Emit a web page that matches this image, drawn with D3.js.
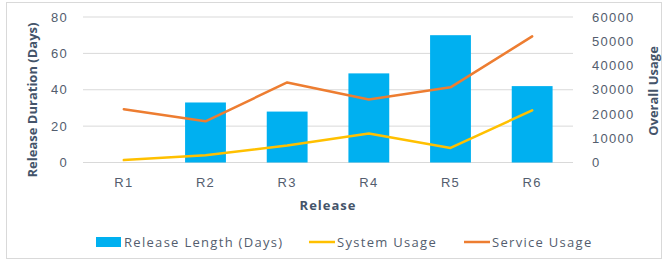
<!DOCTYPE html>
<html>
<head>
<meta charset="utf-8">
<script src="https://cdn.jsdelivr.net/npm/d3@7"></script>
<style>
  body { margin: 0; background: #fff; }
  svg { display: block; font-family: 'Open Sans', sans-serif; }
</style>
</head>
<body>
<div id="chart"></div>
<script>
const releases = ['R1', 'R2', 'R3', 'R4', 'R5', 'R6'];
const releaseLength = [0, 33, 28, 49, 70, 42];
const systemUsage = [1000, 3000, 7000, 12000, 6000, 21500];
const serviceUsage = [22000, 17000, 33000, 26000, 31000, 52000];
const leftTicks = [0, 20, 40, 60, 80];
const rightTicks = [0, 10000, 20000, 30000, 40000, 50000, 60000];

const width = 668;
const height = 264;
const plot = { left: 83, right: 573, top: 17, bottom: 162.5 };

const colors = {
  bar: '#00B0F0',
  system: '#FFC000',
  service: '#ED7D31',
  grid: '#D9D9D9',
  tick: '#535D6E',
  title: '#44546A'
};

const svg = d3.select('#chart')
  .append('svg')
  .attr('width', width)
  .attr('height', height);

svg.append('rect')
  .attr('x', 6.5)
  .attr('y', 2.5)
  .attr('width', 655)
  .attr('height', 256)
  .attr('fill', '#fff')
  .attr('stroke', colors.grid);

const x = d3.scaleBand()
  .domain(releases)
  .range([plot.left, plot.right])
  .paddingInner(0.5)
  .paddingOuter(0.25);

const yLeft = d3.scaleLinear().domain([0, 80]).range([plot.bottom, plot.top]);
const yRight = d3.scaleLinear().domain([0, 60000]).range([plot.bottom, plot.top]);

function styleTicks(sel) {
  sel.attr('fill', colors.tick)
    .style('font-size', '13px')
    .style('letter-spacing', '1.3px');
}

// gridlines
svg.append('g')
  .selectAll('line')
  .data(leftTicks)
  .join('line')
  .attr('x1', plot.left)
  .attr('x2', plot.right)
  .attr('y1', d => yLeft(d))
  .attr('y2', d => yLeft(d))
  .attr('stroke', colors.grid)
  .attr('stroke-width', 1);

// left axis
const leftAxis = svg.append('g')
  .attr('transform', `translate(${plot.left - 15},0)`)
  .call(d3.axisLeft(yLeft).tickValues(leftTicks).tickSize(0).tickPadding(0));
leftAxis.select('.domain').remove();
leftAxis.selectAll('text').call(styleTicks);

// right axis
const rightAxis = svg.append('g')
  .attr('transform', `translate(${plot.right + 19},0)`)
  .call(d3.axisRight(yRight).tickValues(rightTicks).tickFormat(d3.format('d')).tickSize(0).tickPadding(0));
rightAxis.select('.domain').remove();
rightAxis.selectAll('text').call(styleTicks);

// bars
svg.append('g')
  .selectAll('rect')
  .data(releases.map((r, i) => ({ r, v: releaseLength[i] })))
  .join('rect')
  .attr('x', d => x(d.r))
  .attr('width', x.bandwidth())
  .attr('y', d => yLeft(d.v))
  .attr('height', d => yLeft(0) - yLeft(d.v))
  .attr('fill', colors.bar);

// lines
const line = d3.line()
  .x((d, i) => x(releases[i]) + x.bandwidth() / 2)
  .y(d => yRight(d));

svg.append('path')
  .datum(systemUsage)
  .attr('d', line)
  .attr('fill', 'none')
  .attr('stroke', colors.system)
  .attr('stroke-width', 2.5)
  .attr('stroke-linejoin', 'round')
  .attr('stroke-linecap', 'round');

svg.append('path')
  .datum(serviceUsage)
  .attr('d', line)
  .attr('fill', 'none')
  .attr('stroke', colors.service)
  .attr('stroke-width', 2.5)
  .attr('stroke-linejoin', 'round')
  .attr('stroke-linecap', 'round');

// x axis labels
const bottomAxis = svg.append('g')
  .attr('transform', `translate(0,${plot.bottom + 15.5})`)
  .call(d3.axisBottom(x).tickSize(0).tickPadding(0));
bottomAxis.select('.domain').remove();
bottomAxis.selectAll('text').call(styleTicks);

// axis titles
svg.append('text')
  .attr('x', (plot.left + plot.right) / 2)
  .attr('y', 210)
  .attr('text-anchor', 'middle')
  .attr('fill', colors.title)
  .style('font-size', '13px')
  .style('font-weight', 'bold')
  .style('letter-spacing', '1px')
  .text('Release');

svg.append('text')
  .attr('transform', 'translate(37,100) rotate(-90)')
  .attr('text-anchor', 'middle')
  .attr('fill', colors.title)
  .style('font-size', '13px')
  .style('font-weight', 'bold')
  .text('Release Duration (Days)');

svg.append('text')
  .attr('transform', 'translate(658,91) rotate(-90)')
  .attr('text-anchor', 'middle')
  .attr('fill', colors.title)
  .style('font-size', '13px')
  .style('font-weight', 'bold')
  .text('Overall Usage');

// legend
const legendItems = [
  { label: 'Release Length (Days)', color: colors.bar, type: 'rect', x: 96 },
  { label: 'System Usage', color: colors.system, type: 'line', x: 309 },
  { label: 'Service Usage', color: colors.service, type: 'line', x: 464 }
];

const legend = svg.append('g')
  .selectAll('g')
  .data(legendItems)
  .join('g')
  .attr('transform', d => `translate(${d.x},242)`);

legend.filter(d => d.type === 'rect')
  .append('rect')
  .attr('x', 0)
  .attr('y', -5)
  .attr('width', 25)
  .attr('height', 10)
  .attr('fill', d => d.color);

legend.filter(d => d.type === 'line')
  .append('line')
  .attr('x1', 0)
  .attr('x2', 26)
  .attr('y1', 0)
  .attr('y2', 0)
  .attr('stroke', d => d.color)
  .attr('stroke-width', 2.5);

legend.append('text')
  .attr('x', 28)
  .attr('y', 5)
  .call(styleTicks)
  .text(d => d.label);
</script>
</body>
</html>
